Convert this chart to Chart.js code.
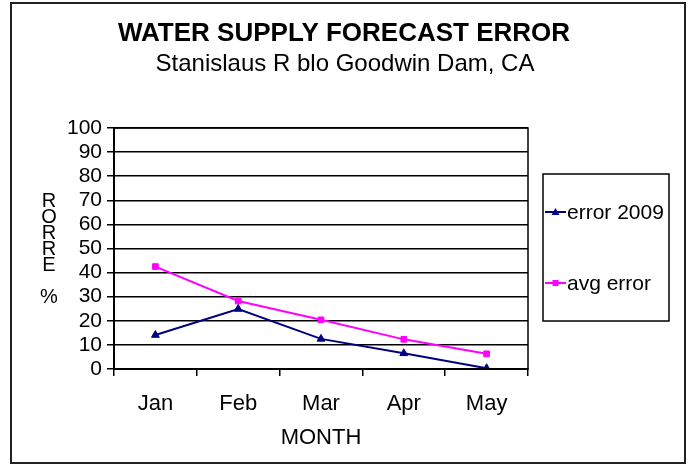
<!DOCTYPE html>
<html>
<head>
<meta charset="utf-8">
<script src="https://cdn.jsdelivr.net/npm/chart.js@4"></script>
<style>
  html, body { margin: 0; padding: 0; background: #fff; }
  #wrap { width: 691px; height: 465px; }
</style>
</head>
<body>
<div id="wrap"><canvas id="chart" width="691" height="465"></canvas></div>
<script>
const months = ['Jan', 'Feb', 'Mar', 'Apr', 'May'];
const error2009 = [14.1, 24.9, 12.5, 6.5, 0.3];
const avgError = [42.5, 28.2, 20.4, 12.3, 6.3];
const yTicks = [0, 10, 20, 30, 40, 50, 60, 70, 80, 90, 100];

const FONT = "Arial, 'Liberation Sans', sans-serif";
const NAVY = '#000080';
const MAGENTA = '#FF00FF';

// titles, vertical axis label, legend box and frames
const decorations = {
    id: 'decorations',
    afterDraw(chart) {
        const ctx = chart.ctx;
        const a = chart.chartArea;
        ctx.save();

        ctx.strokeStyle = '#000';
        ctx.lineWidth = 1.5;
        ctx.strokeRect(a.left, a.top, a.right - a.left, a.bottom - a.top);

        ctx.lineWidth = 2;
        ctx.strokeStyle = '#222';
        ctx.strokeRect(11, 3, 674, 460);

        ctx.fillStyle = '#000';
        ctx.textAlign = 'center';
        ctx.textBaseline = 'middle';
        ctx.font = 'bold 26px ' + FONT;
        ctx.fillText('WATER SUPPLY FORECAST ERROR', 344, 34);
        ctx.font = '24px ' + FONT;
        ctx.fillText('Stanislaus R blo Goodwin Dam, CA', 345, 64);

        // stacked letters, read bottom to top
        const label = '% ERROR'.split('').reverse();
        ctx.font = '20px ' + FONT;
        label.forEach((ch, i) => {
            ctx.fillText(ch, 49, 201 + i * 16);
        });

        // legend
        ctx.lineWidth = 1.5;
        ctx.strokeStyle = '#000';
        ctx.strokeRect(543, 174, 126, 147);
        const entries = [
            { text: 'error 2009', color: NAVY, shape: 'triangle', y: 212 },
            { text: 'avg error', color: MAGENTA, shape: 'rect', y: 283 }
        ];
        ctx.textAlign = 'left';
        ctx.font = '21px ' + FONT;
        entries.forEach(e => {
            ctx.strokeStyle = e.color;
            ctx.lineWidth = 2;
            ctx.beginPath();
            ctx.moveTo(545, e.y);
            ctx.lineTo(566, e.y);
            ctx.stroke();
            ctx.fillStyle = e.color;
            ctx.beginPath();
            if (e.shape === 'triangle') {
                ctx.moveTo(555.5, e.y - 4);
                ctx.lineTo(559.5, e.y + 3);
                ctx.lineTo(551.5, e.y + 3);
                ctx.closePath();
            } else {
                ctx.rect(552.5, e.y - 3, 6, 6);
            }
            ctx.fill();
            ctx.fillStyle = '#000';
            ctx.fillText(e.text, 567, e.y + 1);
        });
        ctx.restore();
    }
};

new Chart(document.getElementById('chart'), {
    type: 'line',
    data: {
        labels: months,
        datasets: [
            {
                label: 'error 2009',
                data: error2009,
                borderColor: NAVY,
                backgroundColor: NAVY,
                borderWidth: 2,
                pointStyle: 'triangle',
                pointRadius: 4.5,
                pointBorderWidth: 1,
                tension: 0
            },
            {
                label: 'avg error',
                data: avgError,
                borderColor: MAGENTA,
                backgroundColor: MAGENTA,
                borderWidth: 2,
                pointStyle: 'rect',
                pointRadius: 4,
                pointBorderWidth: 1,
                tension: 0
            }
        ]
    },
    options: {
        responsive: false,
        animation: false,
        layout: { padding: { top: 128, right: 163, left: 0, bottom: 0 } },
        plugins: {
            legend: { display: false },
            title: { display: false },
            tooltip: { enabled: false }
        },
        scales: {
            x: {
                offset: true,
                afterFit: s => { s.height = 96; },
                grid: {
                    offset: true,
                    drawOnChartArea: false,
                    drawTicks: true,
                    tickLength: 7,
                    color: '#000',
                    lineWidth: 1.5
                },
                border: { color: '#000', width: 2 },
                ticks: {
                    color: '#000',
                    font: { family: FONT, size: 22 },
                    padding: 15,
                    maxRotation: 0
                },
                title: {
                    display: true,
                    text: 'MONTH',
                    color: '#000',
                    font: { family: FONT, size: 22 },
                    padding: { top: 0, bottom: 14 }
                }
            },
            y: {
                min: 0,
                max: 100,
                afterFit: s => { s.width = 114; },
                afterBuildTicks: s => { s.ticks = yTicks.map(v => ({ value: v })); },
                grid: {
                    color: '#000',
                    lineWidth: 1.5,
                    drawTicks: true,
                    tickLength: 7
                },
                border: { color: '#000', width: 2 },
                ticks: {
                    color: '#000',
                    font: { family: FONT, size: 21 },
                    padding: 5,
                    autoSkip: false
                }
            }
        }
    },
    plugins: [decorations]
});
</script>
</body>
</html>
